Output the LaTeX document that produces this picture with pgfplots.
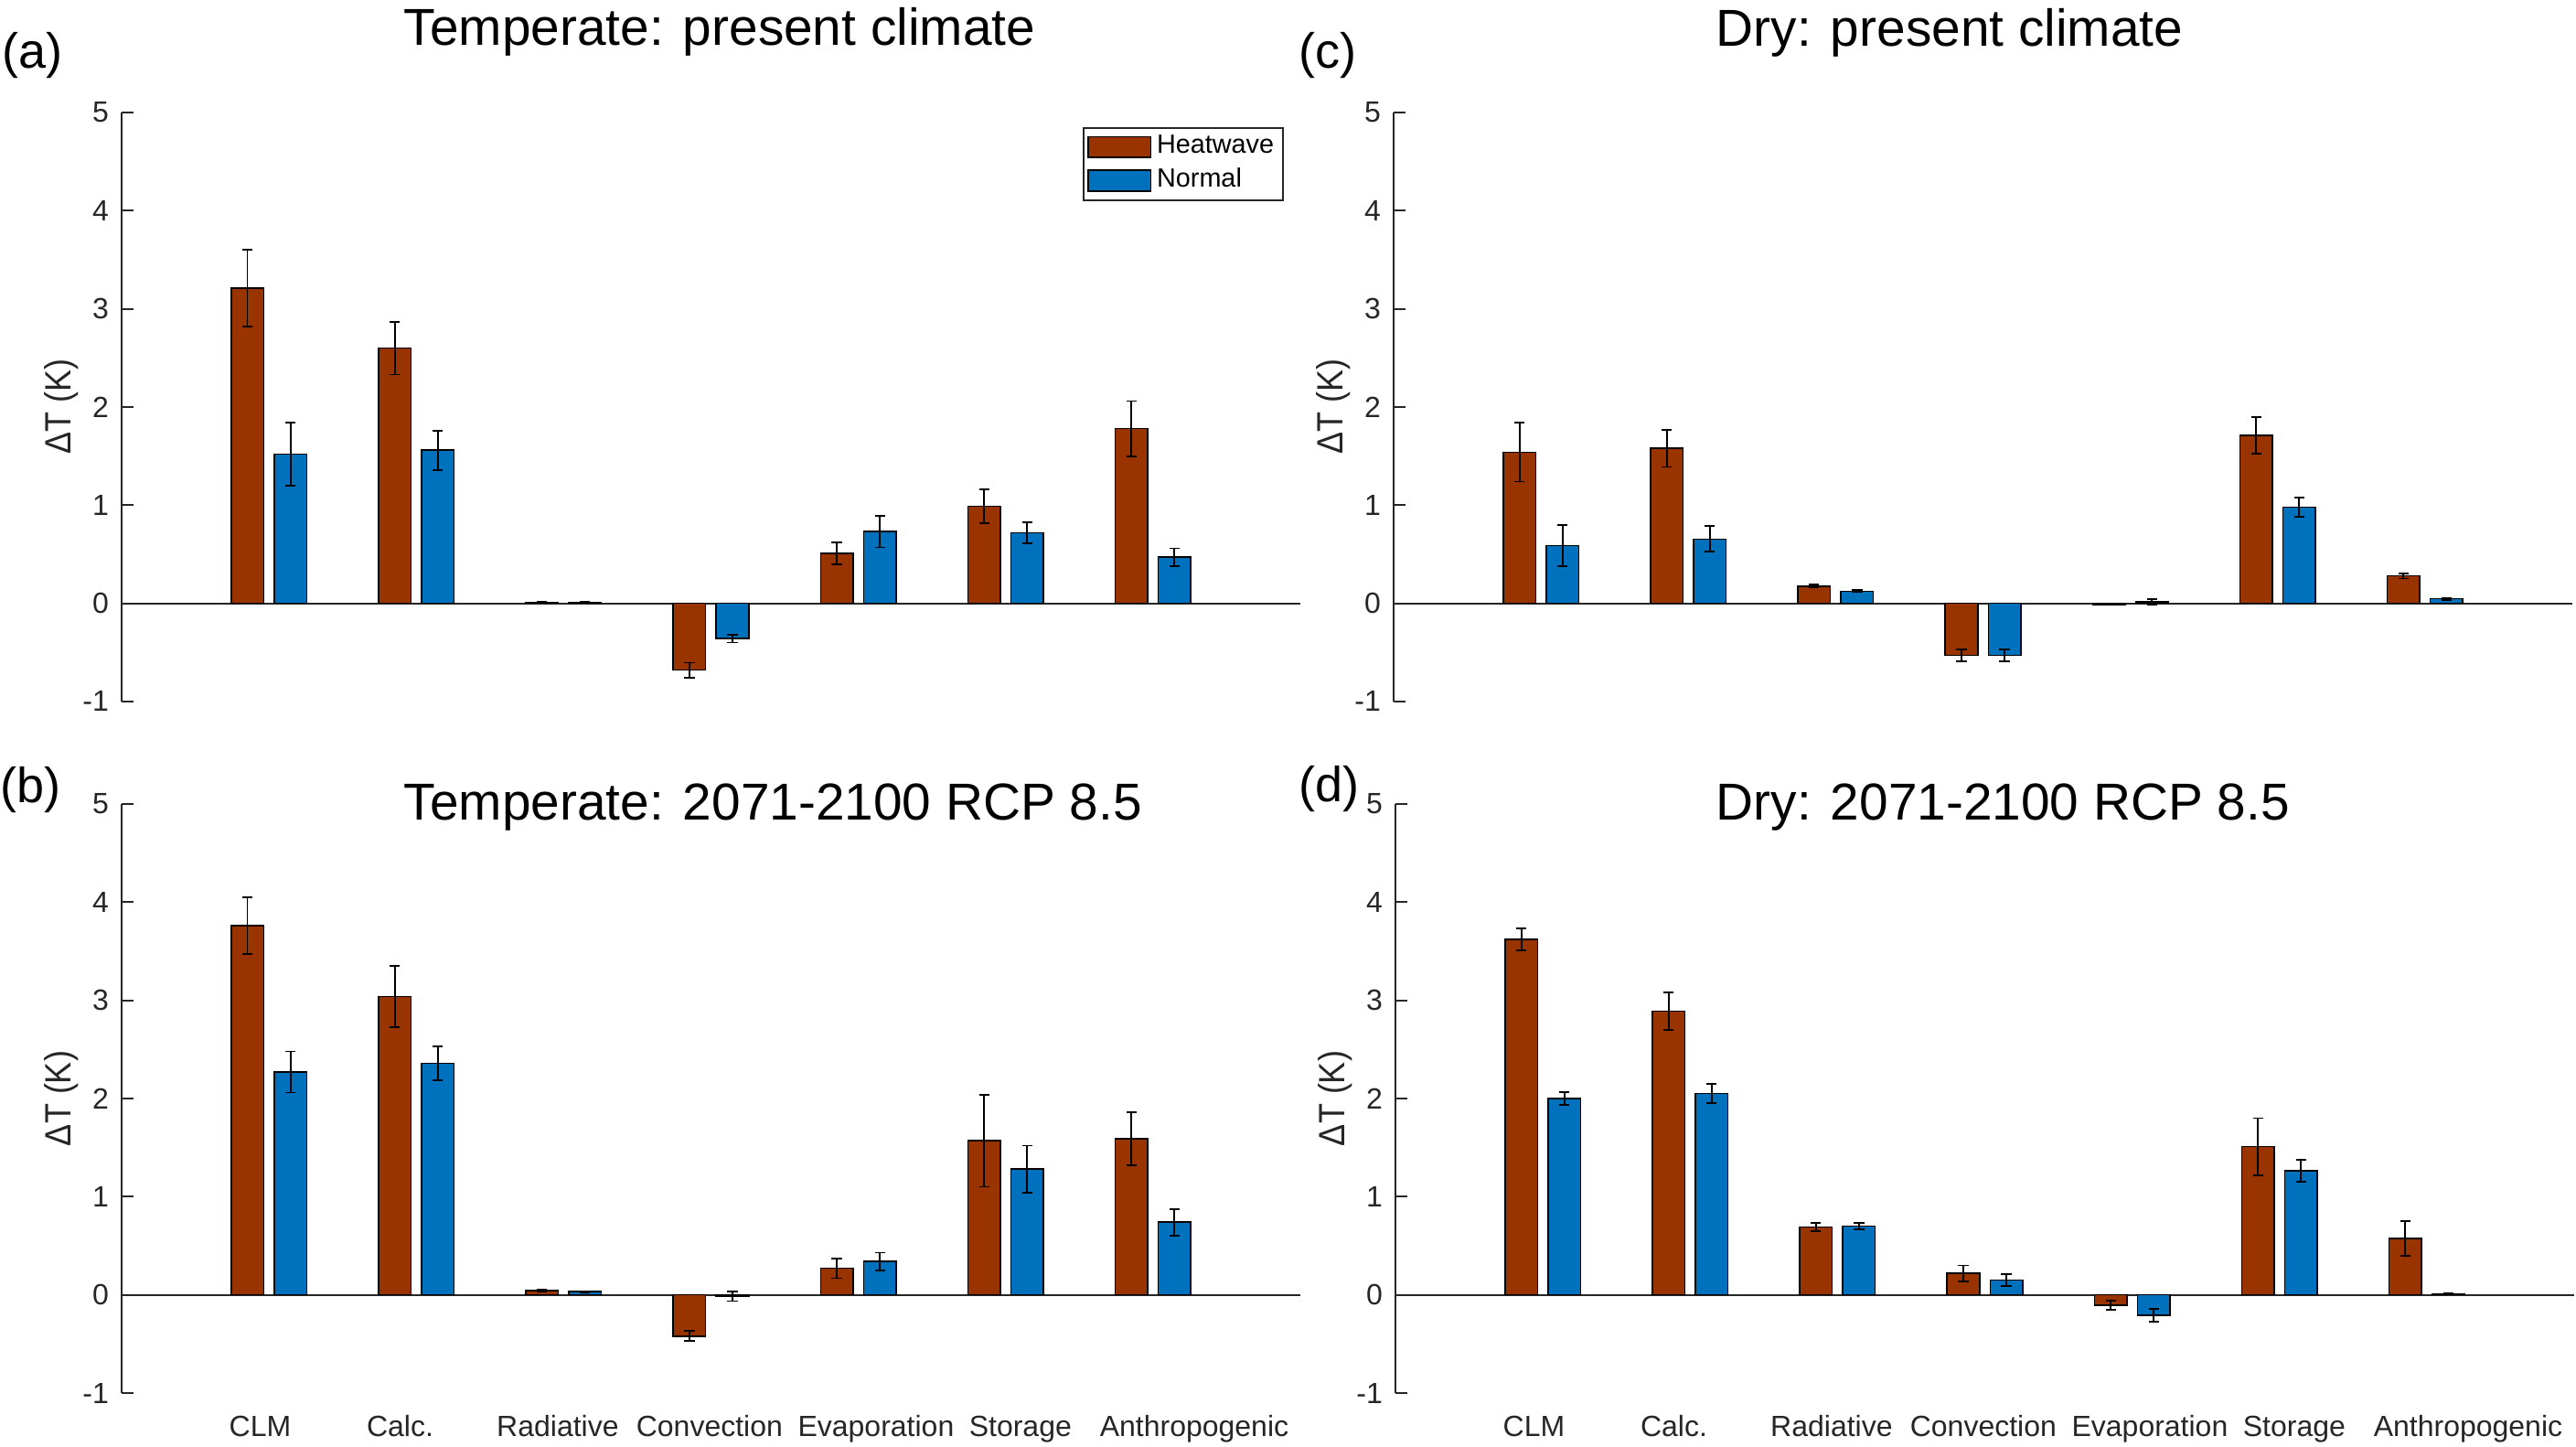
\documentclass[border=0pt]{standalone}
\usepackage{fontspec}
\setmainfont{Liberation Sans}
\newfontfamily\ylabfont[FakeStretch=0.9]{Liberation Sans}
\usepackage{pgfplots}
\usepackage{pgfplotstable}
\pgfplotsset{compat=1.18}

\definecolor{hw}{HTML}{993300}
\definecolor{nm}{HTML}{0072BD}
\definecolor{axc}{HTML}{262626}

% columns: group, heatwave, heatwave err, normal, normal err
\pgfplotstableread{
x hw hwe nm nme
1 3.21 0.39 1.52 0.32
2 2.60 0.27 1.56 0.20
3 0.01 0.004 0.01 0.004
4 -0.68 0.075 -0.36 0.04
5 0.51 0.11 0.73 0.16
6 0.99 0.17 0.72 0.105
7 1.78 0.28 0.47 0.09
}\tempnow
\pgfplotstableread{
x hw hwe nm nme
1 3.76 0.29 2.27 0.21
2 3.04 0.31 2.36 0.17
3 0.046 0.01 0.032 0.006
4 -0.42 0.05 -0.014 0.05
5 0.27 0.10 0.34 0.09
6 1.57 0.47 1.28 0.24
7 1.59 0.27 0.74 0.135
}\tempfut
\pgfplotstableread{
x hw hwe nm nme
1 1.54 0.30 0.59 0.21
2 1.58 0.19 0.655 0.13
3 0.176 0.015 0.123 0.01
4 -0.53 0.06 -0.53 0.06
5 -0.01 0.005 0.015 0.03
6 1.71 0.185 0.98 0.10
7 0.28 0.027 0.047 0.01
}\drynow
\pgfplotstableread{
x hw hwe nm nme
1 3.62 0.11 2.00 0.063
2 2.89 0.19 2.05 0.10
3 0.69 0.044 0.70 0.035
4 0.22 0.08 0.15 0.058
5 -0.107 0.047 -0.21 0.065
6 1.51 0.29 1.265 0.11
7 0.575 0.175 0.009 0.003
}\dryfut

\pgfplotsset{
  panel/.style={
    scale only axis, width=322.25pt, height=161pt, anchor=south west,
    xmin=0, xmax=8, ymin=-1, ymax=5, clip=false,
    axis y line*=left, axis x line*=bottom,
    x axis line style={draw=none},
    y axis line style={draw=axc, line width=0.5pt},
    ytick={-1,0,1,2,3,4,5}, yticklabels={-1,0,1,2,3,4,5},
    ytick align=inside, major tick length=3.2pt,
    ytick style={draw=axc, line width=0.5pt},
    xtick={0.94,1.89,2.96,3.99,5.12,6.1,7.28},
    xtick style={draw=none},
    xticklabels={},
    ticklabel style={font=\fontsize{8}{9.6}\selectfont, text=axc},
    xticklabel style={anchor=base, yshift=-12pt},
    ylabel={ΔT (K)},
    ylabel style={font=\ylabfont\fontsize{10}{12}\selectfont, text=axc,
      at={([xshift=-16.5pt]axis description cs:0,0.5)}, anchor=center},
  },
  bottomrow/.style={
    xticklabels={CLM,Calc.,Radiative,Convection,Evaporation,Storage,Anthropogenic},
  },
  barbase/.style={
    ybar, bar width=0.22, bar shift=0pt, draw=black, line width=0.4pt,
    area legend,
    error bars/y dir=both, error bars/y explicit,
    error bars/error bar style={black, line width=0.45pt},
    error bars/error mark options={black, rotate=90, mark size=1.4pt, line width=0.45pt},
  },
  hwbar/.style={barbase, fill=hw},
  nmbar/.style={barbase, fill=nm},
}

\newcommand{\bars}[1]{%
  \addplot[black!85, line width=0.5pt, forget plot] coordinates {(0,0) (8,0)};
  \addplot[hwbar] table[x expr=\thisrow{x}-0.146, y=hw, y error=hwe] {#1};
  \addplot[nmbar] table[x expr=\thisrow{x}+0.146, y=nm, y error=nme] {#1};
}

\begin{document}
\begin{tikzpicture}
\path[use as bounding box] (0,0) rectangle (704.25pt,395.5pt);

% (a)
\begin{axis}[panel, at={(33.25pt,203.75pt)},
  legend image code/.code={\draw[#1] (0pt,-3.5pt) rectangle (12.75pt,3.5pt);},
  legend style={at={(1,1)}, anchor=north east, xshift=-4.5pt, yshift=-4pt,
    draw=axc, line width=0.4pt, font=\fontsize{7.2}{8.6}\selectfont,
    inner xsep=1pt, inner ysep=1pt, row sep=0.6pt,
    nodes={inner xsep=1.5pt, inner ysep=1pt}},
  legend cell align=left]
\bars{\tempnow}
\legend{Heatwave,Normal}
\end{axis}

% (b)
\begin{axis}[panel, bottomrow, at={(33.25pt,14.75pt)}]
\bars{\tempfut}
\end{axis}

% (c)
\begin{axis}[panel, at={(381pt,203.75pt)}]
\bars{\drynow}
\end{axis}

% (d)
\begin{axis}[panel, bottomrow, at={(381.5pt,14.75pt)}]
\bars{\dryfut}
\end{axis}

\begin{scope}[every node/.style={inner sep=0pt}]
\node[anchor=base west, font=\fontsize{13.5}{16}\selectfont] at (0.5pt,376.75pt) {(a)};
\node[anchor=base west, font=\fontsize{13.5}{16}\selectfont] at (0pt,176pt) {(b)};
\node[anchor=base west, font=\fontsize{13.5}{16}\selectfont] at (355pt,376.75pt) {(c)};
\node[anchor=base west, font=\fontsize{13.5}{16}\selectfont] at (355pt,176.25pt) {(d)};
\node[anchor=base west, font=\fontsize{14.2}{17}\selectfont] at (110.25pt,383pt) {Temperate: present climate};
\node[anchor=base west, font=\fontsize{14.2}{17}\selectfont] at (110.25pt,171.25pt) {Temperate: 2071-2100 RCP 8.5};
\node[anchor=base west, font=\fontsize{14.2}{17}\selectfont] at (469pt,382.75pt) {Dry: present climate};
\node[anchor=base west, font=\fontsize{14.2}{17}\selectfont] at (469pt,171.25pt) {Dry: 2071-2100 RCP 8.5};
\end{scope}
\end{tikzpicture}
\end{document}
